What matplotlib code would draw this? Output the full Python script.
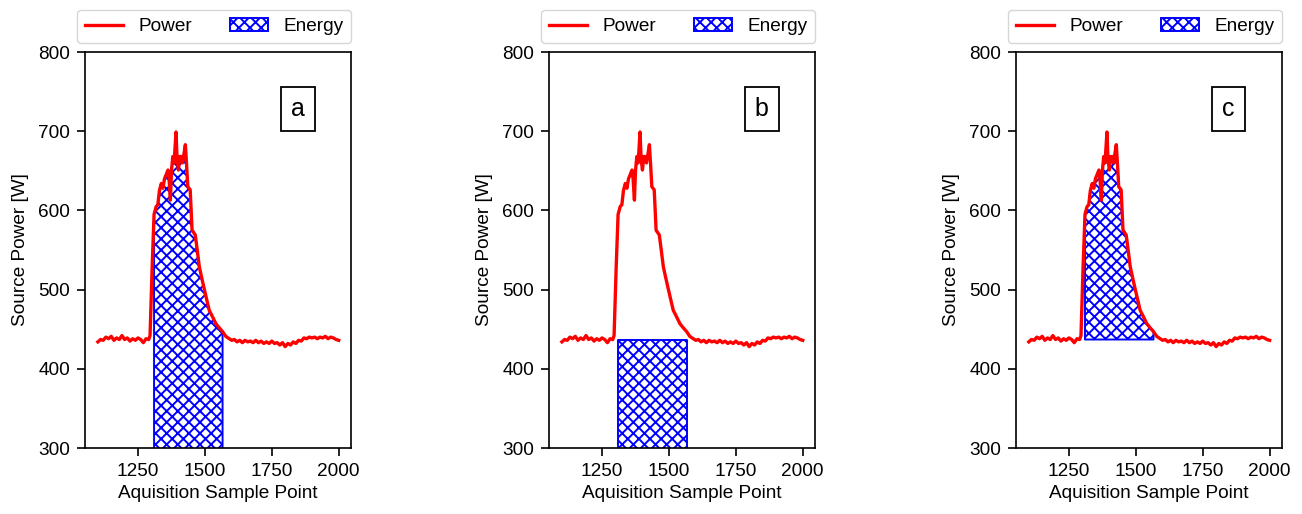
import numpy as np
import matplotlib
matplotlib.use('Agg')
import matplotlib.pyplot as plt

plt.rcParams['font.family'] = ['Liberation Sans', 'DejaVu Sans']
plt.rcParams['hatch.linewidth'] = 1.4

# source power trace
sample_pt = [1100, 1110, 1120, 1130, 1140, 1150, 1160, 1170, 1180, 1190,
             1200, 1210, 1220, 1230, 1240, 1250, 1260, 1270, 1280, 1290,
             1295, 1303, 1310, 1318, 1324, 1330, 1337, 1343, 1349, 1355,
             1362, 1366, 1371, 1375, 1380, 1385, 1392, 1396, 1401, 1406,
             1411, 1416, 1421, 1427, 1432, 1436, 1445, 1452, 1458, 1464,
             1472, 1479, 1488, 1498, 1507, 1516, 1528, 1541, 1553, 1566,
             1578, 1591, 1600, 1610, 1620, 1630, 1640, 1650, 1660, 1670,
             1680, 1690, 1700, 1710, 1720, 1730, 1740, 1750, 1760, 1770,
             1780, 1790, 1800, 1810, 1820, 1830, 1840, 1850, 1860, 1870,
             1880, 1890, 1900, 1910, 1920, 1930, 1940, 1950, 1960, 1970,
             1980, 1990, 2000]
power_w = [434, 437, 436, 440, 438, 441, 436, 439, 437, 442,
           437, 439, 435, 438, 436, 439, 437, 433, 438, 437,
           442, 530, 595, 605, 607, 625, 634, 628, 640, 645,
           651, 640, 613, 650, 668, 660, 699, 665, 651, 668,
           668, 660, 670, 683, 655, 630, 626, 575, 572, 569,
           548, 529, 515, 500, 487, 474, 466, 457, 452, 447,
           441, 438, 436, 437, 434, 436, 433, 436, 434, 435,
           433, 436, 433, 435, 432, 434, 432, 435, 432, 433,
           430, 433, 428, 432, 430, 434, 432, 436, 435, 439,
           438, 440, 439, 440, 438, 440, 439, 441, 438, 440,
           439, 437, 436]

# energy integration window and baseline
e_start = 1310
e_end = 1566
base_w = 437

panel_tags = ['a', 'b', 'c']
x_ticks = [1250, 1500, 1750, 2000]
y_ticks = [300, 400, 500, 600, 700, 800]

x = np.array(sample_pt)
p = np.array(power_w)
win = (x >= e_start) & (x <= e_end)

fs = 13.7
fig = plt.figure(figsize=(13.02, 5.14), dpi=100)
lefts = [0.0653, 0.4217, 0.7803]

for i, tag in enumerate(panel_tags):
    ax = fig.add_axes([lefts[i], 0.1284, 0.2043, 0.7704])
    fill_kw = dict(facecolor='white', edgecolor='blue', hatch='xxx',
                   linewidth=1.4, label='Energy')
    if tag == 'a':
        ax.fill_between(x[win], 0, p[win], **fill_kw)
    elif tag == 'b':
        ax.fill_between([e_start, e_end], 0, [base_w, base_w], **fill_kw)
    else:
        ax.fill_between(x[win], base_w, p[win], **fill_kw)
    ax.plot(x, p, color='red', lw=2.4, label='Power', zorder=3)

    ax.set_ylim(300, 800)
    ax.set_xlim(1052, 2046)
    ax.set_xticks(x_ticks)
    ax.set_yticks(y_ticks)
    ax.tick_params(labelsize=fs, length=5.8, width=1.2, pad=5)
    for s in ax.spines.values():
        s.set_linewidth(1.2)
    ax.set_xlabel('Aquisition Sample Point', fontsize=fs, labelpad=3.4)
    ax.set_ylabel('Source Power [W]', fontsize=fs, labelpad=6.5)

    ax.text(0.80, 0.855, tag, transform=ax.transAxes, fontsize=18,
            ha='center', va='center',
            bbox=dict(boxstyle='square,pad=0.4', fc='white', ec='black', lw=1.3))

    h, l = ax.get_legend_handles_labels()
    order = [l.index('Power'), l.index('Energy')]
    ax.legend([h[k] for k in order], [l[k] for k in order], ncol=2,
              loc='lower right', bbox_to_anchor=(1.0, 1.023), borderaxespad=0,
              fontsize=fs, handlelength=2.0)

plt.savefig('out.png', dpi=100)
